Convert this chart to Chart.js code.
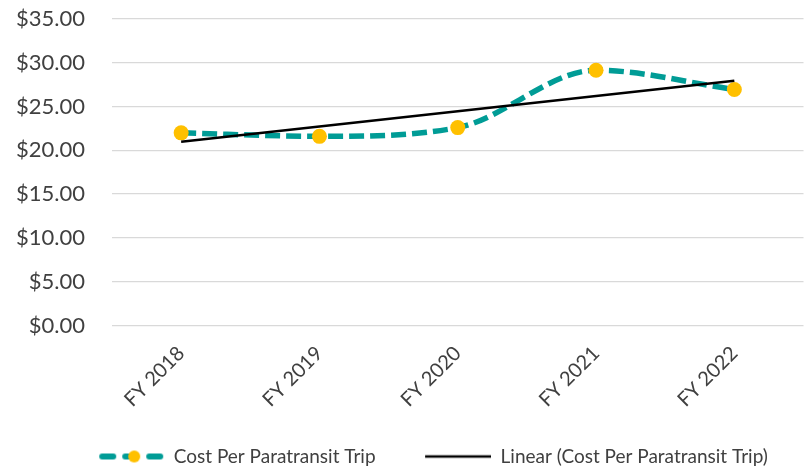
<!DOCTYPE html>
<html>
<head>
<meta charset="utf-8">
<script src="https://cdn.jsdelivr.net/npm/chart.js@4.4.1/dist/chart.umd.min.js"></script>
<style>
    html, body { margin: 0; padding: 0; background: #fff; }
    #wrap { width: 811px; height: 468px; }
</style>
</head>
<body>
<div id="wrap"><canvas id="costChart"></canvas></div>
<script>
const years = ['FY 2018', 'FY 2019', 'FY 2020', 'FY 2021', 'FY 2022'];
const costPerTrip = [22.0, 21.6, 22.6, 29.15, 26.95];
// trendline endpoints (middle filled by spanGaps)
const trendLine = [20.97, null, null, null, 27.95];
const yTicks = [0, 35, 5]; // min, max, step

const teal = '#009C96';
const gold = '#FFC000';
const textColor = '#404040';

// little canvases for the legend symbols (20px blank on the left = gap between items)
function legendSymbol(kind) {
    const c = document.createElement('canvas');
    c.width = 86;
    c.height = 14;
    const g = c.getContext('2d');
    g.translate(20, 0);
    if (kind === 'series') {
        g.strokeStyle = teal;
        g.lineWidth = 6;
        g.lineCap = 'round';
        g.beginPath();
        g.moveTo(4, 7); g.lineTo(15, 7);
        g.moveTo(27, 7); g.lineTo(38, 7);
        g.moveTo(51, 7); g.lineTo(62, 7);
        g.stroke();
        g.fillStyle = gold;
        g.beginPath();
        g.arc(36, 7, 6, 0, Math.PI * 2);
        g.fill();
    } else {
        g.strokeStyle = '#000';
        g.lineWidth = 2.5;
        g.beginPath();
        g.moveTo(0, 7); g.lineTo(66, 7);
        g.stroke();
    }
    return c;
}

// nudge the legend a bit right, like the original
const shiftLegend = {
    id: 'shiftLegend',
    afterLayout(chart) {
        chart.legend.left += 18;
        chart.legend.right += 18;
    }
};

const ctx = document.getElementById('costChart').getContext('2d');
new Chart(ctx, {
    type: 'line',
    data: {
        labels: years,
        datasets: [{
            label: 'Cost Per Paratransit Trip',
            data: costPerTrip,
            borderColor: teal,
            borderWidth: 5.5,
            borderDash: [15, 6],
            cubicInterpolationMode: 'monotone',
            pointRadius: 7.5,
            pointBackgroundColor: gold,
            pointBorderColor: gold,
            pointBorderWidth: 0,
            order: 2
        }, {
            label: 'Linear (Cost Per Paratransit Trip)',
            data: trendLine,
            borderColor: '#000',
            borderWidth: 2.5,
            pointRadius: 0,
            spanGaps: true,
            tension: 0,
            order: 1
        }]
    },
    plugins: [shiftLegend],
    options: {
        responsive: true,
        maintainAspectRatio: false,
        animation: false,
        layout: { padding: { top: 19, left: 0, right: 1, bottom: -8 } },
        scales: {
            x: {
                offset: true,
                grid: { display: false },
                border: { display: false },
                ticks: {
                    color: textColor,
                    font: { family: 'Lato', size: 20 },
                    maxRotation: 45,
                    minRotation: 45,
                    padding: 8
                },
                afterFit: axis => {
                    axis.height = 92;
                    axis.paddingLeft = 0;
                    axis.paddingRight = 0;
                }
            },
            y: {
                min: yTicks[0],
                max: yTicks[1],
                border: { display: false },
                grid: { color: '#D9D9D9', lineWidth: 1.3, drawTicks: false },
                ticks: {
                    stepSize: yTicks[2],
                    color: textColor,
                    font: { family: 'Lato', size: 22 },
                    padding: 27,
                    callback: v => '$' + v.toFixed(2)
                },
                afterFit: axis => {
                    axis.width = 112;
                    axis.paddingTop = 0;
                    axis.paddingBottom = 0;
                }
            }
        },
        plugins: {
            legend: {
                display: true,
                position: 'bottom',
                labels: {
                    color: textColor,
                    font: { family: 'Lato', size: 19 },
                    usePointStyle: true,
                    pointStyleWidth: 86,
                    boxHeight: 14,
                    padding: 29.5,
                    generateLabels: chart => chart.data.datasets.map((ds, i) => ({
                        text: ds.label,
                        fontColor: textColor,
                        pointStyle: legendSymbol(i === 0 ? 'series' : 'trend'),
                        datasetIndex: i,
                        hidden: false,
                        lineWidth: 0,
                        strokeStyle: 'rgba(0,0,0,0)',
                        fillStyle: 'rgba(0,0,0,0)'
                    }))
                }
            },
            tooltip: { enabled: false }
        }
    }
});
</script>
</body>
</html>
